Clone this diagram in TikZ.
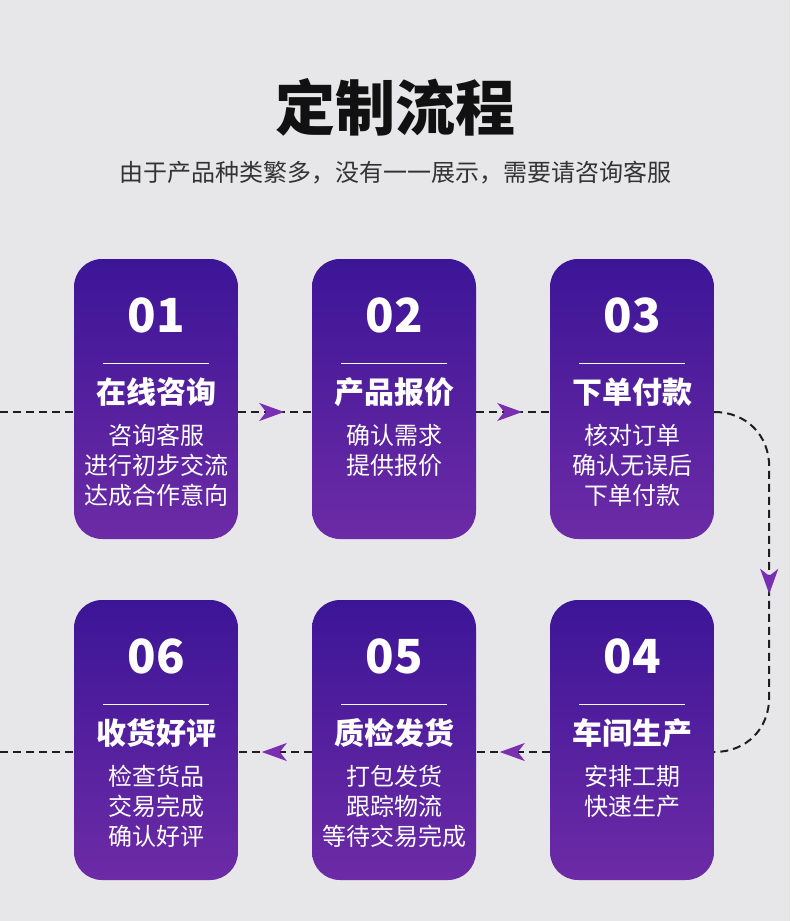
\documentclass[tikz,border=0pt]{standalone}
\usepackage{fontspec}
\newfontfamily\cjk{Noto Sans CJK SC}
\usetikzlibrary{arrows.meta,decorations.markings}
\definecolor{bg}{HTML}{E7E7E9}
\definecolor{ctop}{HTML}{3C1597}
\definecolor{cbot}{HTML}{6D2BA6}
\definecolor{arrowc}{HTML}{7A2FB2}
\definecolor{linec}{HTML}{1E1E1E}
\definecolor{ttlc}{HTML}{111111}
\definecolor{subc}{HTML}{333333}
\newcommand\mkcard[6]{%
  \node[card] (#1) at (#2,#3+140) {};
  \node[num] (#1n) at (#2,#3+56) {#4};
  \draw[divider] (#2-53,#3+104) -- (#2+53,#3+104);
  \node[ttl] (#1t) at (#2,#3+133) {#5};
  \foreach \l [count=\i] in {#6} {\node[body] (#1b\i) at (#2,#3+146+30*\i) {\l};}
}
\begin{document}
\begin{tikzpicture}[x=1pt,y=-1pt,
  card/.style={rounded corners=28pt, top color=ctop, bottom color=cbot, draw=none,
    minimum width=164pt, minimum height=280pt, inner sep=0pt},
  num/.style={text=white, inner sep=0pt, font=\cjk\bfseries\fontsize{47}{47}\selectfont},
  ttl/.style={text=white, inner sep=0pt, font=\cjk\bfseries\fontsize{30}{30}\selectfont},
  body/.style={text=white, inner sep=0pt, font=\cjk\fontsize{24}{24}\selectfont},
  divider/.style={draw=white, line width=1pt},
  dashline/.style={draw=linec, line width=2pt, dash pattern=on 8pt off 5pt},
  arrmark/.style={postaction={decorate}, decoration={markings,
    mark=at position #1 with {\arrow{Stealth[length=25pt,width=18pt,inset=7pt,color=arrowc]}}}}
]
\fill[bg] (0,0) rectangle (790,921);
\useasboundingbox (0,0) rectangle (790,921);

\node[font=\cjk\bfseries\fontsize{60}{60}\selectfont, text=ttlc, inner sep=0pt] (title) at (395,107) {定制流程};
\node[font=\cjk\fontsize{24}{24}\selectfont, text=subc, inner sep=0pt] (subtitle) at (395,173) {由于产品种类繁多，没有一一展示，需要请咨询客服};

\coordinate (Lin) at (0,412);
\coordinate (Lout) at (0,752);

% connectors (behind cards)
\draw[dashline] (Lin) -- (Lin -| 74,0);
\draw[dashline] (Lout) -- (Lout -| 74,0);

\mkcard{c1}{156}{259}{01}{在线咨询}{咨询客服,进行初步交流,达成合作意向}
\mkcard{c2}{394}{259}{02}{产品报价}{确认需求,提供报价}
\mkcard{c3}{632}{259}{03}{下单付款}{核对订单,确认无误后,下单付款}
\mkcard{c4}{632}{600}{04}{车间生产}{安排工期,快速生产}
\mkcard{c5}{394}{600}{05}{质检发货}{打包发货,跟踪物流,等待交易完成}
\mkcard{c6}{156}{600}{06}{收货好评}{检查货品,交易完成,确认好评}

\draw[dashline, arrmark=46pt] (c1.east |- Lin) -- (c2.west |- Lin);
\draw[dashline, arrmark=46pt] (c2.east |- Lin) -- (c3.west |- Lin);
\draw[dashline, arrmark=214pt] (c3.east |- Lin) .. controls +(32,0) and +(0,-32) .. ++(55,55)
   -- ++(0,230) .. controls +(0,32) and +(32,0) .. (c4.east |- Lout);
\draw[dashline, arrmark=50pt] (c4.west |- Lout) -- (c5.east |- Lout);
\draw[dashline, arrmark=50pt] (c5.west |- Lout) -- (c6.east |- Lout);
\end{tikzpicture}
\end{document}
